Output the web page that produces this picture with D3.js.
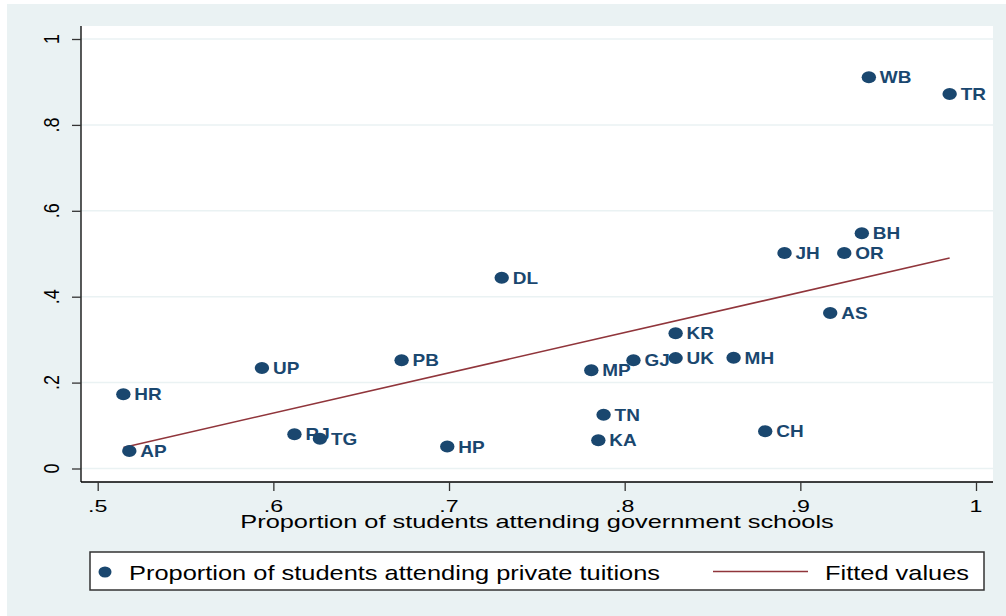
<!DOCTYPE html>
<html>
<head>
<meta charset="utf-8">
<script src="https://cdn.jsdelivr.net/npm/d3@7"></script>
<style>
  html, body { margin: 0; padding: 0; background: #fff; }
  svg { display: block; font-family: "Liberation Sans", Arial, sans-serif; }
</style>
</head>
<body>
<svg id="chart" width="1006" height="616"></svg>
<script>
// state codes and their values
const states = ["WB", "TR", "BH", "JH", "OR", "DL", "AS", "KR", "UK", "GJ", "MP", "MH",
                "TN", "KA", "CH", "HR", "AP", "UP", "PB", "RJ", "TG", "HP"];
const govShare = [0.939, 0.985, 0.935, 0.891, 0.925, 0.730, 0.917, 0.829, 0.829, 0.805, 0.781, 0.862,
                  0.788, 0.785, 0.880, 0.5146, 0.518, 0.5935, 0.673, 0.612, 0.6265, 0.699];
const tuitionShare = [0.911, 0.872, 0.548, 0.502, 0.502, 0.444, 0.362, 0.315, 0.257, 0.252, 0.229, 0.258,
                      0.125, 0.066, 0.087, 0.173, 0.041, 0.234, 0.252, 0.080, 0.069, 0.051];
const fitX = [0.5146, 0.985];
const fitY = [0.049, 0.490];
const xTicks = [0.5, 0.6, 0.7, 0.8, 0.9, 1];
const yTicks = [0, 0.2, 0.4, 0.6, 0.8, 1];
const xTitle = "Proportion of students attending government schools";
const legendLabels = ["Proportion of students attending private tuitions", "Fitted values"];

const navy = "#1a476f", maroon = "#90353b", bg = "#eaf2f3";

const svg = d3.select("#chart");
const plot = { left: 81, right: 993, top: 26, bottom: 482 };

const x = d3.scaleLinear().domain([0.5, 1]).range([97.7, 976]);
const y = d3.scaleLinear().domain([0, 1]).range([468.5, 39]);

const fmt = d => d === 0 ? "0" : d === 1 ? "1" : d3.format(".1f")(d).replace(/^0/, "");

// outer background
svg.append("rect").attr("x", 7).attr("y", 4).attr("width", 999).attr("height", 612).attr("fill", bg);
svg.append("rect").attr("x", plot.left).attr("y", plot.top)
  .attr("width", plot.right - plot.left).attr("height", plot.bottom - plot.top).attr("fill", "#fff");

// gridlines
svg.append("g").selectAll("line").data(yTicks).join("line")
  .attr("x1", plot.left).attr("x2", plot.right)
  .attr("y1", d => y(d)).attr("y2", d => y(d))
  .attr("stroke", bg).attr("stroke-width", 1.5);

// y axis
const yAxis = svg.append("g").attr("transform", `translate(${plot.left},0)`)
  .call(d3.axisLeft(y).tickValues(yTicks).tickSize(9).tickFormat(""));
yAxis.select(".domain").attr("d", `M0,${plot.top}V${plot.bottom}`).attr("stroke", "#000").attr("stroke-width", 1.3);
yAxis.selectAll(".tick line").attr("stroke", "#333").attr("stroke-width", 1.3);
svg.append("g").selectAll("text").data(yTicks).join("text")
  .attr("transform", d => `translate(59,${y(d)}) rotate(-90) scale(1,1.24)`)
  .attr("text-anchor", "middle").attr("font-size", 18).attr("fill", "#000")
  .text(fmt);

// x axis
const xAxis = svg.append("g").attr("transform", `translate(0,${plot.bottom})`)
  .call(d3.axisBottom(x).tickValues(xTicks).tickSize(9).tickFormat(""));
xAxis.select(".domain").attr("d", `M${plot.left},0H${plot.right}`).attr("stroke", "#000").attr("stroke-width", 1.3);
xAxis.selectAll(".tick line").attr("stroke", "#333").attr("stroke-width", 1.3);
svg.append("g").selectAll("text").data(xTicks).join("text")
  .attr("transform", d => `translate(${x(d)},512) scale(1.45,1)`)
  .attr("text-anchor", "middle").attr("font-size", 16).attr("fill", "#000")
  .text(fmt);

svg.append("text")
  .attr("transform", `translate(537,528) scale(1.45,1)`)
  .attr("text-anchor", "middle").attr("font-size", 17.5).attr("fill", "#000")
  .text(xTitle);

// fitted line
svg.append("path")
  .datum(fitX.map((d, i) => [d, fitY[i]]))
  .attr("d", d3.line().x(d => x(d[0])).y(d => y(d[1])))
  .attr("fill", "none").attr("stroke", maroon).attr("stroke-width", 1.6);

// points and labels
const pts = states.map((s, i) => ({ s, gx: govShare[i], ty: tuitionShare[i] }));
svg.append("g").selectAll("ellipse").data(pts).join("ellipse")
  .attr("cx", d => x(d.gx)).attr("cy", d => y(d.ty))
  .attr("rx", 7.2).attr("ry", 6).attr("fill", navy);
svg.append("g").selectAll("text").data(pts).join("text")
  .attr("transform", d => `translate(${x(d.gx) + 11},${y(d.ty) + 6}) scale(1.15,1)`)
  .attr("font-size", 16.5).attr("font-weight", "bold").attr("fill", navy)
  .text(d => d.s);

// legend
const lg = svg.append("g");
lg.append("rect").attr("x", 90).attr("y", 552).attr("width", 894).attr("height", 38)
  .attr("fill", "#fff").attr("stroke", "#333").attr("stroke-width", 1.5);
lg.append("ellipse").attr("cx", 105).attr("cy", 572).attr("rx", 6.5).attr("ry", 5.5).attr("fill", navy);
lg.append("text").attr("transform", `translate(129,580) scale(1.24,1)`)
  .attr("font-size", 20.5).attr("fill", "#000").text(legendLabels[0]);
lg.append("line").attr("x1", 713).attr("x2", 808).attr("y1", 571.5).attr("y2", 571.5)
  .attr("stroke", maroon).attr("stroke-width", 1.6);
lg.append("text").attr("transform", `translate(825,580) scale(1.24,1)`)
  .attr("font-size", 20.5).attr("fill", "#000").text(legendLabels[1]);
</script>
</body>
</html>
